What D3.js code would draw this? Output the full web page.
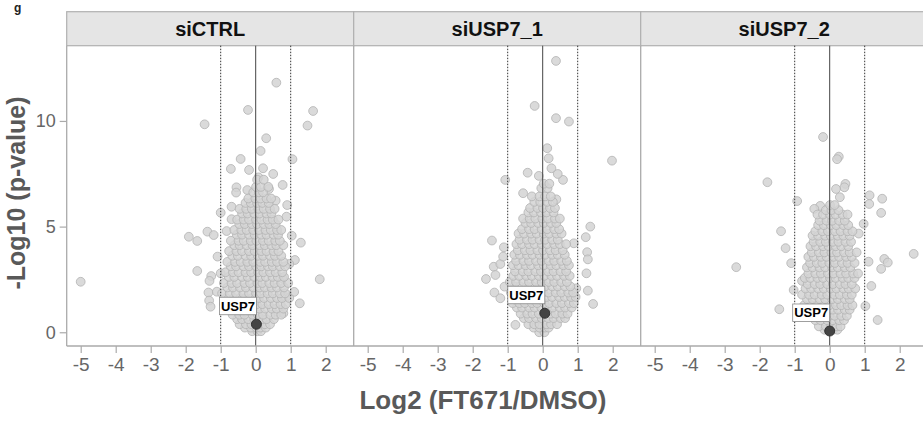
<!DOCTYPE html>
<html><head><meta charset="utf-8">
<script src="https://cdn.jsdelivr.net/npm/d3@7"></script>
<style>body{margin:0;background:#fff}svg{display:block;font-family:"Liberation Sans",Arial,sans-serif}</style>
</head><body><svg id="c" width="923" height="428"></svg>
<script>
const panels = ["siCTRL", "siUSP7_1", "siUSP7_2"];
const xTicks = [-5, -4, -3, -2, -1, 0, 1, 2];
const yTicks = [0, 5, 10];
const usp7 = [[0.02, 0.38], [0.06, 0.90], [0.0, 0.06]];

// outlying points [log2FC, -log10 p]
const ctrlOut = [[-5.0,2.39],[-1.46,9.84],[-0.22,10.52],[0.59,11.81],[1.64,10.47],[1.48,9.78],[0.30,9.18],[0.14,8.58],[-0.43,8.20],[1.05,8.19],[-0.71,7.73],[-0.19,7.68],[0.21,7.76],[0.50,7.49],[0.08,7.33],[0.77,6.97],[-0.55,6.86],[-0.24,6.73],[-0.56,6.61],[0.38,6.78],[0.57,6.23],[0.90,6.02],[0.88,5.47],[-0.69,5.94],[-1.0,5.66],[-0.69,5.35],[-1.38,4.76],[-1.91,4.52],[-1.67,4.32],[-1.20,4.60],[-0.83,4.79],[1.03,4.57],[1.29,4.24],[1.12,3.42],[0.96,3.23],[-1.09,3.58],[-1.67,2.90],[-1.27,2.66],[-1.32,2.43],[-1.0,2.79],[1.83,2.51],[0.77,2.55],[-1.35,1.88],[-1.11,1.92],[-1.33,1.50],[-1.29,1.21],[1.10,1.91],[1.26,1.37],[0.79,0.90],[0.86,1.66]];
const usp71Out = [[0.38,12.84],[-0.23,10.71],[0.38,10.13],[0.75,9.97],[1.98,8.12],[0.13,8.71],[0.17,8.23],[0.25,7.76],[-1.07,7.21],[-0.43,7.55],[-0.11,7.40],[0.58,7.21],[0.43,7.49],[-0.56,6.58],[0.39,6.29],[-1.45,4.34],[-1.11,4.02],[-1.62,2.52],[-1.40,3.10],[-1.21,3.23],[-1.13,3.58],[-1.35,2.71],[-1.38,1.88],[-1.21,1.61],[-1.09,2.16],[1.36,5.00],[1.23,4.50],[1.27,3.79],[1.29,3.45],[1.25,2.79],[1.44,1.34],[1.29,1.97],[0.96,2.08],[0.89,4.21],[-0.78,0.35]];
const usp72Out = [[-0.19,9.24],[0.26,8.31],[0.21,8.19],[-1.78,7.10],[-0.93,6.21],[-1.39,4.78],[-1.26,3.98],[-2.67,3.08],[-1.10,3.27],[-1.44,1.09],[1.14,6.48],[1.50,6.32],[1.13,6.07],[1.47,5.65],[0.97,5.13],[2.40,3.71],[1.56,3.47],[1.66,3.30],[1.47,3.00],[1.11,3.34],[1.19,2.19],[1.37,0.58],[1.02,1.24],[0.45,7.02],[0.42,6.86],[0.18,6.78],[0.29,6.39],[-0.27,5.98],[-0.44,5.84],[0.83,4.67],[-1.03,2.0],[-0.79,2.43]];

// dense core, rows of [ -log10 p, [log2FC values] ]
const ctrlCore = [
[0.05,[-0.1,0.05,0.15]],[0.22,[-0.31,-0.14,0.02,0.13,0.29]],[0.38,[-0.46,-0.28,-0.12,0.09,0.26,0.41]],
[0.62,[-0.53,-0.39,-0.21,-0.04,0.19,0.31,0.52]],[0.83,[-0.66,-0.47,-0.32,-0.09,0.06,0.21,0.42,0.57,0.73]],
[1.12,[-0.79,-0.61,-0.4,-0.26,-0.07,0.11,0.27,0.46,0.6,0.79]],[1.33,[-0.91,-0.69,-0.53,-0.34,-0.16,0.03,0.19,0.37,0.54,0.71,0.86]],
[1.62,[-0.84,-0.63,-0.44,-0.29,-0.11,0.09,0.24,0.43,0.61,0.75,0.96]],[1.84,[-0.96,-0.74,-0.56,-0.35,-0.19,0.01,0.15,0.34,0.49,0.69,0.84]],
[2.12,[-0.81,-0.65,-0.45,-0.28,-0.07,0.11,0.26,0.45,0.61,0.81]],[2.33,[-0.91,-0.69,-0.53,-0.32,-0.16,0.05,0.19,0.39,0.54,0.73,0.93]],
[2.62,[-0.77,-0.61,-0.39,-0.23,-0.04,0.13,0.29,0.48,0.63,0.81]],[2.84,[-0.86,-0.65,-0.49,-0.29,-0.13,0.07,0.22,0.41,0.57,0.76]],
[3.12,[-0.71,-0.56,-0.35,-0.19,0.01,0.16,0.35,0.49,0.69,0.84]],[3.33,[-0.81,-0.59,-0.43,-0.24,-0.07,0.13,0.27,0.46,0.61,0.79]],
[3.62,[-0.67,-0.51,-0.29,-0.13,0.06,0.21,0.41,0.55,0.73]],[3.84,[-0.76,-0.55,-0.39,-0.19,-0.03,0.16,0.31,0.51,0.65]],
[4.12,[-0.61,-0.46,-0.26,-0.09,0.11,0.26,0.45,0.59,0.79]],[4.33,[-0.71,-0.49,-0.34,-0.14,0.02,0.21,0.37,0.56,0.69]],
[4.62,[-0.54,-0.39,-0.19,-0.03,0.16,0.31,0.51,0.64]],[4.84,[-0.61,-0.41,-0.26,-0.07,0.09,0.28,0.43,0.61,0.73]],
[5.12,[-0.47,-0.31,-0.11,0.04,0.23,0.39,0.57]],[5.33,[-0.53,-0.34,-0.19,0.01,0.16,0.34,0.49,0.65]],
[5.62,[-0.39,-0.23,-0.04,0.11,0.31,0.45]],[5.84,[-0.46,-0.27,-0.11,0.08,0.23,0.41,0.54]],
[6.12,[-0.29,-0.14,0.04,0.19,0.37]],[6.33,[-0.21,-0.01,0.14,0.31,0.44]],[6.62,[-0.07,0.09,0.21]],
[6.88,[0.01,0.15,0.36]],[7.22,[0.04,0.23]]];
const usp71Core = [
[0.0,[-0.1,0.05]],[0.22,[-0.26,-0.09,0.06,0.17]],[0.38,[-0.41,-0.24,-0.09,0.11,0.24,0.41]],
[0.67,[-0.54,-0.39,-0.19,-0.03,0.16,0.31,0.51,0.64]],[0.88,[-0.63,-0.44,-0.29,-0.11,0.23,0.37,0.56,0.71]],
[1.17,[-0.74,-0.59,-0.39,-0.23,-0.04,0.13,0.29,0.49,0.64,0.83]],[1.38,[-0.86,-0.67,-0.51,-0.31,-0.16,0.04,0.19,0.39,0.55,0.75,0.89]],
[1.67,[-0.77,-0.61,-0.41,-0.26,-0.07,0.11,0.27,0.47,0.63,0.81,0.94]],[1.88,[-0.91,-0.71,-0.55,-0.34,-0.19,0.01,0.17,0.37,0.53,0.73,0.87]],
[2.17,[-0.81,-0.65,-0.45,-0.29,-0.09,0.07,0.27,0.43,0.63,0.79]],[2.38,[-0.94,-0.76,-0.55,-0.39,-0.19,-0.03,0.17,0.33,0.53,0.69]],
[2.67,[-0.84,-0.67,-0.47,-0.31,-0.11,0.05,0.25,0.41,0.61,0.77]],[2.88,[-0.79,-0.57,-0.41,-0.21,-0.05,0.15,0.31,0.51,0.67]],
[3.17,[-0.85,-0.69,-0.49,-0.33,-0.13,0.03,0.23,0.39,0.59,0.75]],[3.38,[-0.76,-0.55,-0.39,-0.19,-0.03,0.17,0.33,0.53,0.69]],
[3.67,[-0.81,-0.65,-0.45,-0.29,-0.09,0.07,0.27,0.43,0.63]],[3.88,[-0.71,-0.51,-0.35,-0.15,0.01,0.21,0.37,0.57]],
[4.17,[-0.75,-0.59,-0.39,-0.23,-0.03,0.13,0.33,0.49,0.67]],[4.38,[-0.66,-0.45,-0.29,-0.09,0.07,0.27,0.43]],
[4.67,[-0.69,-0.53,-0.33,-0.17,0.03,0.19,0.39,0.54]],[4.88,[-0.59,-0.39,-0.23,-0.03,0.13,0.33,0.47]],
[5.17,[-0.49,-0.33,-0.13,0.03,0.23,0.39]],[5.38,[-0.56,-0.37,-0.21,-0.01,0.15,0.35,0.49]],
[5.67,[-0.41,-0.25,-0.05,0.11,0.31]],[5.88,[-0.36,-0.15,0.01,0.21,0.35]],[6.17,[-0.24,-0.07,0.13,0.29]],
[6.43,[-0.31,-0.09,0.07,0.23]],[6.82,[-0.04,0.14]],[7.03,[0.03,0.19]]];
const usp72Core = [
[0.12,[-0.15,0.1,0.22]],[0.28,[-0.31,-0.11,0.04,0.21,0.31]],[0.57,[-0.41,-0.26,-0.07,0.09,0.27,0.41]],
[0.78,[-0.56,-0.37,-0.21,-0.01,0.14,0.33,0.49]],[1.07,[-0.61,-0.46,-0.27,-0.11,0.09,0.24,0.43,0.57]],
[1.28,[-0.73,-0.53,-0.37,-0.17,-0.01,0.18,0.33,0.51,0.65]],[1.57,[-0.65,-0.49,-0.29,-0.13,0.07,0.23,0.43,0.57]],
[1.78,[-0.79,-0.59,-0.43,-0.23,-0.07,0.13,0.29,0.49,0.63]],[2.07,[-0.69,-0.53,-0.33,-0.17,0.03,0.19,0.39,0.54,0.73]],
[2.28,[-0.63,-0.43,-0.27,-0.07,0.09,0.29,0.45,0.63]],[2.57,[-0.71,-0.55,-0.35,-0.19,0.01,0.17,0.37,0.53,0.71]],
[2.78,[-0.61,-0.41,-0.25,-0.05,0.11,0.31,0.47,0.67,0.81]],[3.07,[-0.65,-0.49,-0.29,-0.13,0.07,0.23,0.43,0.59]],
[3.28,[-0.56,-0.37,-0.21,-0.01,0.15,0.35,0.51,0.71]],[3.57,[-0.61,-0.45,-0.25,-0.09,0.11,0.27,0.47,0.63]],
[3.78,[-0.51,-0.31,-0.15,0.05,0.21,0.41,0.57,0.77]],[4.07,[-0.55,-0.39,-0.19,-0.03,0.17,0.33,0.53]],
[4.28,[-0.46,-0.27,-0.11,0.09,0.25,0.45,0.61]],[4.57,[-0.49,-0.33,-0.13,0.03,0.23,0.39,0.57]],
[4.78,[-0.41,-0.21,-0.05,0.15,0.31,0.51,0.65]],[5.07,[-0.33,-0.17,0.03,0.19,0.39,0.53]],
[5.28,[-0.29,-0.09,0.07,0.27,0.43]],[5.57,[-0.35,-0.19,0.01,0.17,0.37,0.51]],[5.78,[-0.11,0.05,0.25]],[6.02,[0.01,0.14]]];

const outs = [ctrlOut, usp71Out, usp72Out];
const cores = [ctrlCore, usp71Core, usp72Core];

const svg = d3.select("#c");
const panelW = 287, left0 = 66.7, plotTop = 45.7, plotBottom = 346;
const y = d3.scaleLinear().domain([-0.65, 13.56]).range([plotBottom, plotTop]);
const grey = "#595959";

svg.append("text").attr("x", 14).attr("y", 12).attr("font-size", 12).attr("font-weight", "bold").attr("fill", "#222").text("g");

panels.forEach((name, i) => {
  const L = left0 + i * panelW;
  const x = d3.scaleLinear().domain([-5.4, 2.8]).range([L, L + panelW]);
  const g = svg.append("g");
  g.append("rect").attr("x", L).attr("y", 11.7).attr("width", panelW).attr("height", plotTop - 11.7)
    .attr("fill", "#e5e5e5").attr("stroke", "#b0b0b0").attr("stroke-width", 1.2);
  g.append("text").attr("x", L + panelW / 2).attr("y", 36).attr("text-anchor", "middle")
    .attr("font-size", 20).attr("font-weight", "bold").attr("fill", "#111").text(name);
  g.append("line").attr("x1", L).attr("x2", L).attr("y1", plotTop).attr("y2", plotBottom).attr("stroke", "#aaa").attr("stroke-width", 1.3);
  const pts = outs[i].slice();
  cores[i].forEach(([yy, xs]) => xs.forEach(xx => pts.push([xx, yy])));
  g.append("g").selectAll("circle").data(pts).join("circle")
    .attr("cx", d => x(d[0])).attr("cy", d => y(d[1])).attr("r", 4.4)
    .attr("fill", "#d4d4d4").attr("fill-opacity", 0.85).attr("stroke", "#b2b2b2").attr("stroke-width", 0.8);
  [-1, 1].forEach(v => g.append("line").attr("x1", x(v)).attr("x2", x(v)).attr("y1", plotTop).attr("y2", plotBottom)
    .attr("stroke", "#333").attr("stroke-width", 1).attr("stroke-dasharray", "1.5,1.5"));
  g.append("line").attr("x1", x(0)).attr("x2", x(0)).attr("y1", plotTop).attr("y2", plotBottom).attr("stroke", "#444").attr("stroke-width", 1);
  const [ux, uy] = usp7[i];
  const px = x(ux), py = y(uy);
  g.append("circle").attr("cx", px).attr("cy", py).attr("r", 5).attr("fill", "#444").attr("stroke", "#333");
  g.append("rect").attr("x", px - 37).attr("y", py - 27).attr("width", 37).attr("height", 17.5)
    .attr("fill", "#fff").attr("stroke", "#888").attr("stroke-width", 0.8);
  g.append("text").attr("x", px - 18.5).attr("y", py - 13.5).attr("text-anchor", "middle")
    .attr("font-size", 13).attr("font-weight", "bold").attr("fill", "#000").text("USP7");
  const ax = g.append("g").attr("transform", `translate(0,${plotBottom})`)
    .call(d3.axisBottom(x).tickValues(xTicks).tickSize(7).tickPadding(5).tickFormat(d3.format("d")));
  ax.select(".domain").remove();
  ax.selectAll(".tick line").attr("stroke", "#aaa").attr("stroke-width", 1.2);
  ax.selectAll(".tick text").attr("font-size", 19).attr("fill", "#666").attr("font-family", "Liberation Sans,Arial,sans-serif").text(d => d < 0 ? "-" + Math.abs(d) : d);
});

svg.append("line").attr("x1", left0).attr("x2", 923).attr("y1", plotBottom).attr("y2", plotBottom).attr("stroke", "#aaa").attr("stroke-width", 1.3);

const ay = svg.append("g").attr("transform", `translate(${left0},0)`)
  .call(d3.axisLeft(y).tickValues(yTicks).tickSize(7).tickPadding(4));
ay.select(".domain").remove();
ay.selectAll(".tick line").attr("stroke", "#aaa").attr("stroke-width", 1.2);
ay.selectAll(".tick text").attr("font-size", 18).attr("fill", "#666").attr("font-family", "Liberation Sans,Arial,sans-serif");

svg.append("text").attr("transform", "translate(25,193) rotate(-90)").attr("text-anchor", "middle")
  .attr("font-size", 25).attr("font-weight", "bold").attr("fill", grey).text("-Log10 (p-value)");
svg.append("text").attr("x", 483).attr("y", 409).attr("text-anchor", "middle")
  .attr("font-size", 26).attr("font-weight", "bold").attr("fill", grey).text("Log2 (FT671/DMSO)");
</script></body></html>
